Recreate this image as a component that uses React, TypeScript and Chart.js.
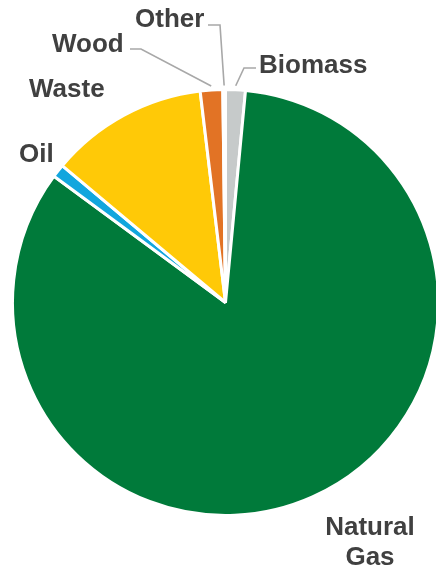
import React, { useEffect, useRef } from "react";
import { Chart, registerables } from "chart.js";

Chart.register(...registerables);

// ---- data ----
const categories = ["Biomass", "Natural Gas", "Oil", "Waste", "Wood", "Other"];
const shares = [1.5, 83.6, 1.0, 12.0, 1.7, 0.2];
const sliceColors = ["#C6CACA", "#007A3A", "#12A6DE", "#FFC907", "#E27325", "#C6CACA"];
const labelLines = [["Biomass"], ["Natural", "Gas"], ["Oil"], ["Waste"], ["Wood"], ["Other"]];

// ---- label layout (positions/styles only) ----
type Layout = { x: number; y: number; align: CanvasTextAlign; leader?: number[][] };
const labelLayout: Layout[] = [
  { x: 259, y: 73, align: "left", leader: [[244, 68], [256, 68]] },
  { x: 370, y: 535, align: "center" },
  { x: 19, y: 162, align: "left" },
  { x: 29, y: 97, align: "left" },
  { x: 52, y: 52, align: "left", leader: [[141, 49], [130, 49]] },
  { x: 135, y: 27, align: "left", leader: [[220, 25], [208, 25]] },
];
const LINE_HEIGHT = 30;
const TEXT_COLOR = "#404040";
const LEADER_COLOR = "#A8A8A8";
const FONT = "bold 26px 'Liberation Sans', Arial, sans-serif";

const labelPlugin = {
  id: "pieLabels",
  afterDraw(chart: any) {
    const ctx = chart.ctx as CanvasRenderingContext2D;
    const meta = chart.getDatasetMeta(0);
    ctx.save();
    meta.data.forEach((arc: any, i: number) => {
      const lay = labelLayout[i];
      if (!lay) return;
      const { x, y, startAngle, endAngle, outerRadius } = arc.getProps(
        ["x", "y", "startAngle", "endAngle", "outerRadius"],
        true
      );
      if (lay.leader) {
        const mid = (startAngle + endAngle) / 2;
        const r = outerRadius + 4;
        const ax = x + Math.cos(mid) * r;
        const ay = y + Math.sin(mid) * r;
        ctx.strokeStyle = LEADER_COLOR;
        ctx.lineWidth = 1.6;
        ctx.beginPath();
        ctx.moveTo(ax, ay);
        lay.leader.forEach((p) => ctx.lineTo(p[0], p[1]));
        ctx.stroke();
      }
      ctx.fillStyle = TEXT_COLOR;
      ctx.font = FONT;
      ctx.textAlign = lay.align;
      ctx.textBaseline = "alphabetic";
      labelLines[i].forEach((line, k) => {
        ctx.fillText(line, lay.x, lay.y + k * LINE_HEIGHT);
      });
    });
    ctx.restore();
  },
};

export default function App() {
  const ref = useRef<HTMLCanvasElement | null>(null);
  useEffect(() => {
    if (!ref.current) return;
    const chart = new Chart(ref.current, {
      type: "pie",
      data: {
        labels: categories,
        datasets: [
          {
            data: shares,
            backgroundColor: sliceColors,
            borderColor: "#FFFFFF",
            borderWidth: 3,
            radius: 213,
          } as any,
        ],
      },
      options: {
        responsive: false,
        animation: false,
        devicePixelRatio: 1,
        layout: { padding: { left: 15, right: 0, top: 92, bottom: 62 } },
        plugins: {
          legend: { display: false },
          tooltip: { enabled: false },
        },
      },
      plugins: [labelPlugin],
    });
    return () => chart.destroy();
  }, []);
  return (
    <div style={{ position: "absolute", left: 0, top: 0, width: 436, height: 575 }}>
      <canvas ref={ref} width={436} height={575} style={{ width: 436, height: 575 }} />
    </div>
  );
}
